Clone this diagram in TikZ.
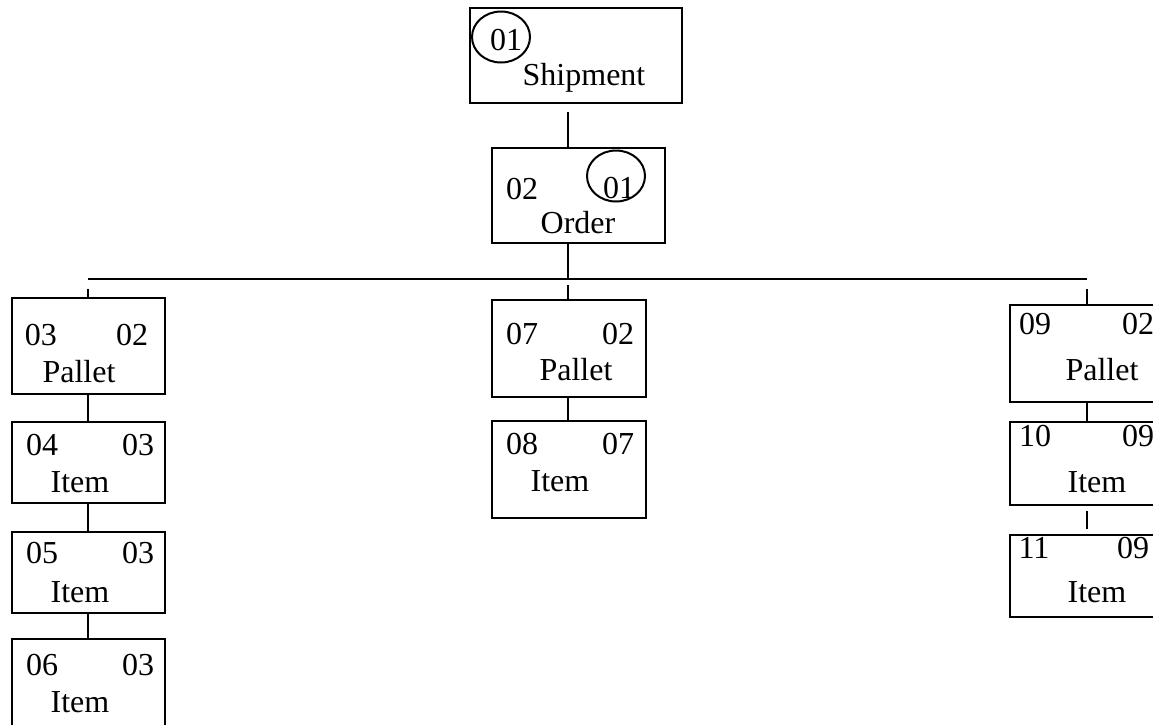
\documentclass[tikz,border=0pt]{standalone}
\usepackage{fontspec}
\setmainfont{Liberation Serif}
\usepackage{tikz}
\usetikzlibrary{shapes.geometric}

\tikzset{
  recbox/.style={draw, line width=1.2pt, inner sep=0pt, outer sep=0pt, anchor=north west},
  ring/.style={draw, ellipse, line width=1pt, inner sep=0pt, minimum width=29pt, minimum height=25.5pt},
  txt/.style={inner sep=0pt, anchor=base},
  link/.style={line width=1pt}
}

\begin{document}
\begin{tikzpicture}[x=0.5pt,y=-0.5pt,font=\fontsize{16}{19}\selectfont]
\useasboundingbox (0,0) rectangle (1153,724);
\clip (0,0) rectangle (1153,724);
% boxes
\node[recbox, minimum width=106pt, minimum height=47.5pt] (ship) at (470,8) {};
\node[recbox, minimum width=86.5pt, minimum height=47.5pt] (order) at (492,148) {};
\node[recbox, minimum width=76.5pt, minimum height=48pt] (p03) at (12,298) {};
\node[recbox, minimum width=76.5pt, minimum height=40.5pt] (i04) at (12,422) {};
\node[recbox, minimum width=76.5pt, minimum height=40.5pt] (i05) at (12,532) {};
\node[recbox, minimum width=76.5pt, minimum height=45pt] (i06) at (12,639) {};
\node[recbox, minimum width=77pt, minimum height=48.5pt] (p07) at (492,300) {};
\node[recbox, minimum width=77pt, minimum height=48.5pt] (i08) at (492,421) {};
\node[recbox, minimum width=77pt, minimum height=48.5pt] (p09) at (1010,305) {};
\node[recbox, minimum width=77pt, minimum height=41.5pt] (i10) at (1010,422) {};
\node[recbox, minimum width=77pt, minimum height=41pt] (i11) at (1010,535) {};
% rings
\node[ring] (shipring) at (501,37) {};
\node[ring] (ordring) at (616,176) {};
% texts
\node[txt] (shipno) at (506,50) {01};
\node[txt] (shipname) at (584,85) {Shipment};
\node[txt] (ordno) at (522,199) {02};
\node[txt] (ordup) at (619,198) {01};
\node[txt] (ordname) at (578,233) {Order};
\node[txt] (p03no) at (41,345) {03};
\node[txt] (p03up) at (132,345) {02};
\node[txt] (p03name) at (79,382) {Pallet};
\node[txt] (i04no) at (42,455) {04};
\node[txt] (i04up) at (138,455) {03};
\node[txt] (i04name) at (80,492) {Item};
\node[txt] (i05no) at (42,563) {05};
\node[txt] (i05up) at (138,563) {03};
\node[txt] (i05name) at (80,602) {Item};
\node[txt] (i06no) at (42,675) {06};
\node[txt] (i06up) at (138,675) {03};
\node[txt] (i06name) at (80,712) {Item};
\node[txt] (p07no) at (522,344) {07};
\node[txt] (p07up) at (618,344) {02};
\node[txt] (p07name) at (576,380) {Pallet};
\node[txt] (i08no) at (522,454) {08};
\node[txt] (i08up) at (618,454) {07};
\node[txt] (i08name) at (560,491) {Item};
\node[txt] (p09no) at (1035,334) {09};
\node[txt] (p09up) at (1138,334) {02};
\node[txt] (p09name) at (1102,380) {Pallet};
\node[txt] (i10no) at (1035,446) {10};
\node[txt] (i10up) at (1138,446) {09};
\node[txt] (i10name) at (1097,492) {Item};
\node[txt] (i11no) at (1034,558) {11};
\node[txt] (i11up) at (1133,558) {09};
\node[txt] (i11name) at (1097,602) {Item};
% tree lines
\coordinate (top) at (568,112);
\coordinate (bar) at (568,279);
\coordinate (barl) at (88,279);
\coordinate (barr) at (1087,279);
\draw[link] (top) -- (top |- order.north);
\draw[link] (bar |- order.south) -- (bar);
\draw[link] (barl) -- (barr);
\draw[link] ([yshift=-5]barl) -- (barl |- p03.north);
\draw[link] ([yshift=-3]bar) -- (bar |- p07.north);
\draw[link] ([yshift=-5]barr) -- (barr |- p09.north);
\draw[link] (p03.south -| barl) -- (i04.north -| barl);
\draw[link] (i04.south -| barl) -- (i05.north -| barl);
\draw[link] (i05.south -| barl) -- (i06.north -| barl);
\draw[link] (p07.south -| bar) -- (i08.north -| bar);
\draw[link] (p09.south -| barr) -- (i10.north -| barr);
\draw[link] ([yshift=-3]i10.south -| barr) -- ([yshift=3]i11.north -| barr);
\end{tikzpicture}
\end{document}
